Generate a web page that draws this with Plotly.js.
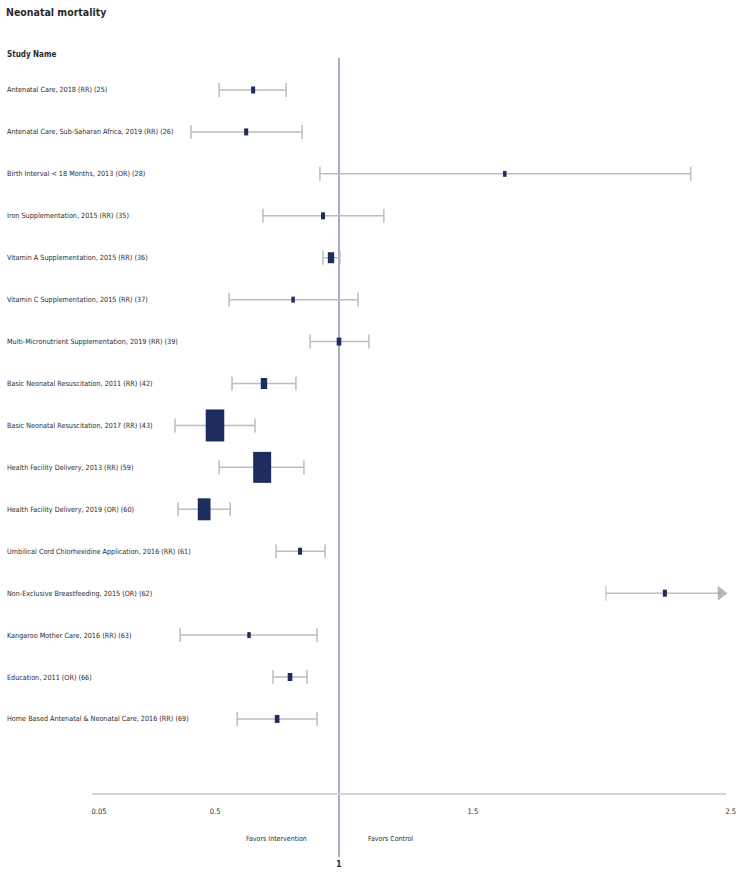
<!DOCTYPE html>
<html><head><meta charset="utf-8">
<script src="https://cdn.plot.ly/plotly-3.0.1.min.js"></script>
<style>html,body{margin:0;padding:0;background:#fff}</style>
</head><body>
<div id="chart" style="width:745px;height:874px"></div>
<script>
// ---- data ----
const studies = [
  "Antenatal Care, 2018 (RR) (25)",
  "Antenatal Care, Sub-Saharan Africa, 2019 (RR) (26)",
  "Birth Interval < 18 Months, 2013 (OR) (28)",
  "Iron Supplementation, 2015 (RR) (35)",
  "Vitamin A Supplementation, 2015 (RR) (36)",
  "Vitamin C Supplementation, 2015 (RR) (37)",
  "Multi-Micronutrient Supplementation, 2019 (RR) (39)",
  "Basic Neonatal Resuscitation, 2011 (RR) (42)",
  "Basic Neonatal Resuscitation, 2017 (RR) (43)",
  "Health Facility Delivery, 2013 (RR) (59)",
  "Health Facility Delivery, 2019 (OR) (60)",
  "Umbilical Cord Chlorhexidine Application, 2016 (RR) (61)",
  "Non-Exclusive Breastfeeding, 2015 (OR) (62)",
  "Kangaroo Mother Care, 2016 (RR) (63)",
  "Education, 2011 (OR) (66)",
  "Home Based Antenatal & Neonatal Care, 2016 (RR) (69)"
];
const estimate = [0.667, 0.640, 1.643, 0.938, 0.969, 0.822, 1.000, 0.709, 0.519, 0.702, 0.477, 0.849, 2.264, 0.651, 0.810, 0.760];
const lower    = [0.535, 0.426, 0.926, 0.705, 0.938, 0.574, 0.888, 0.585, 0.364, 0.535, 0.376, 0.756, 2.035, 0.384, 0.744, 0.605];
const upper    = [0.795, 0.857, 2.364, 1.174, 1.004, 1.074, 1.116, 0.833, 0.674, 0.864, 0.578, 0.946, null,  0.915, 0.876, 0.915];
const relWeight = [7, 7, 6, 7, 11, 6, 8, 11, 32, 31, 22, 7, 7, 6, 8, 8];
const xTicks = [0.05, 0.5, 1.5, 2.5];
const nullValue = 1;

// ---- geometry helpers (styling) ----
const X_MIN = 0.042, X_MAX = 2.501;
const Y_TOP = 0.237, Y_BOT = 17.766;
const PX_PER_X = 258, PX_PER_ROW = 41.93;
const rows = studies.map((_, i) => i + 1);

const FONT = '"Liberation Sans Narrow", "DejaVu Sans Condensed", "Arial Narrow", sans-serif';
const TXT = '#2b2b2b';
const NAVY = '#1f2d5e';
const GREY = '#bdbdbd';
const ARROW = '#9a9a9a';

const hasUpper = upper.map(u => u !== null);
const errX = estimate.map((e, i) => hasUpper[i] ? e : null);
const errY = rows.map((r, i) => hasUpper[i] ? r : null);

const whiskers = {
  type: 'scatter', mode: 'markers',
  x: errX, y: errY, xaxis: 'x', yaxis: 'y',
  marker: {size: 1, opacity: 0},
  error_x: {
    type: 'data', symmetric: false,
    array: estimate.map((e, i) => hasUpper[i] ? upper[i] - e : null),
    arrayminus: estimate.map((e, i) => hasUpper[i] ? e - lower[i] : null),
    color: GREY, thickness: 1.5, width: 7
  },
  hoverinfo: 'skip', showlegend: false
};

// open-ended interval(s) drawn with an arrow at the axis end
const openIdx = upper.map((u, i) => u === null ? i : -1).filter(i => i >= 0);
const arrowTraces = openIdx.map(i => ({
  type: 'scatter', mode: 'lines+markers',
  x: [lower[i], X_MAX - 5 / PX_PER_X], y: [rows[i], rows[i]],
  xaxis: 'x', yaxis: 'y',
  line: {color: GREY, width: 1.5},
  marker: {symbol: ['line-ns-open', 'triangle-right'], size: [11, 13],
           color: [GREY, ARROW], line: {color: GREY, width: [1.5, 0]}},
  cliponaxis: false, hoverinfo: 'skip', showlegend: false
}));

const boxW = relWeight.map(w => w * 0.58 / PX_PER_X);
const boxH = relWeight.map(w => w / PX_PER_ROW);
const boxes = {
  type: 'bar', orientation: 'h',
  y: rows, x: boxW,
  base: estimate.map((e, i) => e - boxW[i] / 2),
  width: boxH,
  xaxis: 'x', yaxis: 'y2',
  marker: {color: NAVY, line: {width: 0}},
  hoverinfo: 'skip', showlegend: false
};

const paperY = px => (793 - px) / 735;
const paperX = px => (px - 92) / 634;

const annotations = studies.map((s, i) => ({
  text: s, xref: 'paper', yref: 'y', x: paperX(5), y: rows[i],
  xanchor: 'left', yanchor: 'middle', showarrow: false,
  font: {family: FONT, size: 7.2, color: TXT}
}));
annotations.push(
  {text: '<b>Study Name</b>', xref: 'paper', yref: 'paper', x: paperX(5), y: paperY(55),
   xanchor: 'left', yanchor: 'middle', showarrow: false, font: {family: FONT, size: 8, color: TXT}},
  {text: 'Favors Intervention', xref: 'x', yref: 'paper', x: nullValue, y: paperY(839),
   xanchor: 'right', yanchor: 'middle', xshift: -30, showarrow: false, font: {family: FONT, size: 7, color: TXT}},
  {text: 'Favors Control', xref: 'x', yref: 'paper', x: nullValue, y: paperY(839),
   xanchor: 'left', yanchor: 'middle', xshift: 27, showarrow: false, font: {family: FONT, size: 7, color: TXT}},
  {text: '<b>1</b>', xref: 'x', yref: 'paper', x: nullValue, y: paperY(864),
   xanchor: 'center', yanchor: 'middle', showarrow: false, font: {family: FONT, size: 9, color: NAVY}}
);

const layout = {
  width: 745, height: 874,
  margin: {l: 92, r: 19, t: 58, b: 81, pad: 0},
  paper_bgcolor: '#ffffff', plot_bgcolor: '#ffffff',
  title: {text: '<b>Neonatal mortality</b>', xref: 'container', yref: 'container',
          x: 6 / 745, xanchor: 'left', y: 1 - 12 / 874, yanchor: 'middle',
          font: {family: FONT, size: 10.5, color: TXT}},
  xaxis: {range: [X_MIN, X_MAX], tickvals: xTicks, ticktext: xTicks.map(String),
          showgrid: false, zeroline: false, showline: true, linecolor: '#d4d4d4', linewidth: 2,
          ticks: 'outside', ticklen: 10, tickcolor: 'rgba(0,0,0,0)', ticklabelshift: 5,
          tickfont: {family: FONT, size: 7.5, color: TXT}, fixedrange: true},
  yaxis: {range: [Y_BOT, Y_TOP], showgrid: false, zeroline: false, showline: false,
          showticklabels: false, ticks: '', fixedrange: true},
  yaxis2: {range: [Y_BOT, Y_TOP], overlaying: 'y', showgrid: false, zeroline: false,
           showline: false, showticklabels: false, ticks: '', fixedrange: true},
  barmode: 'overlay',
  shapes: [{type: 'line', xref: 'x', yref: 'paper', x0: nullValue, x1: nullValue,
            y0: paperY(857), y1: 1, line: {color: '#8494ad', width: 1.5}, layer: 'below'}],
  annotations: annotations,
  showlegend: false
};

Plotly.newPlot('chart', [whiskers].concat(arrowTraces, [boxes]), layout, {displayModeBar: false, staticPlot: true});
</script>
</body></html>
